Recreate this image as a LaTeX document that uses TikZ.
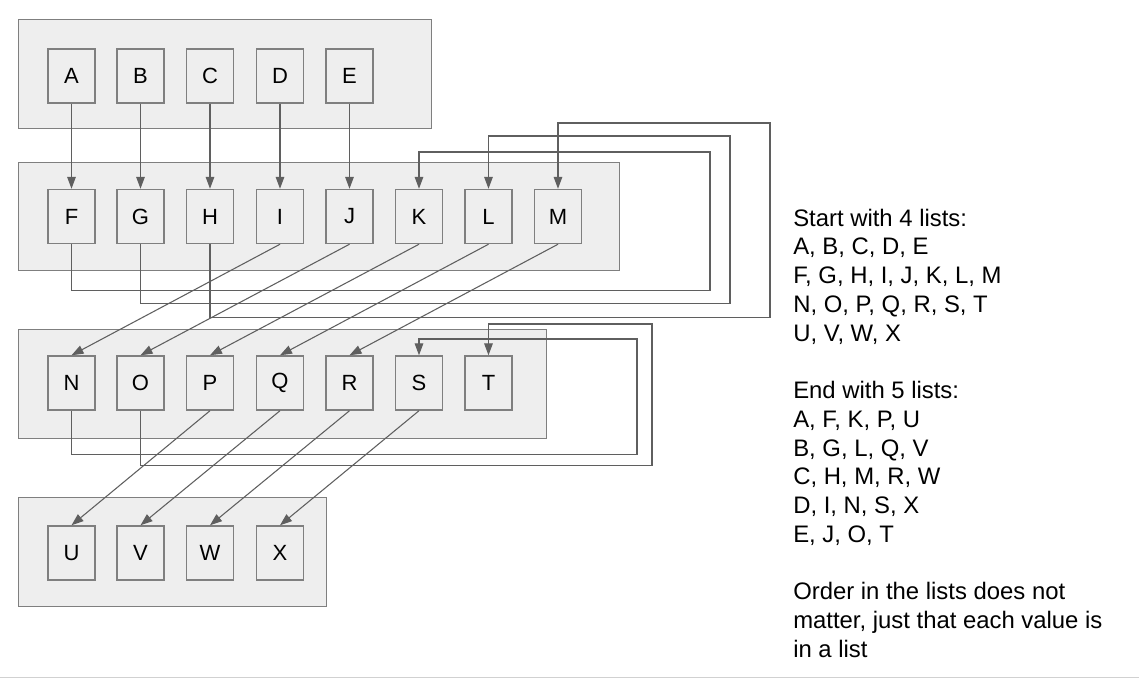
\documentclass[tikz,border=0pt]{standalone}
\usepackage{fontspec}
\setmainfont{Liberation Sans}
\usetikzlibrary{arrows.meta}
\definecolor{grpfill}{HTML}{EEEEEE}
\definecolor{grpline}{HTML}{7F7F7F}
\definecolor{conn}{HTML}{5F5F5F}
\tikzset{
  grp/.style={draw=grpline, fill=grpfill, line width=1.1pt},
  item/.style={draw=grpline, fill=grpfill, line width=1.1pt, minimum width=35.25pt, minimum height=40.5pt, inner sep=0pt, font=\fontsize{16.5}{19}\selectfont},
  link/.style={draw=conn, line width=0.8pt, -{Triangle[length=9pt,width=6.5pt]}},
  txt/.style={anchor=base west, inner sep=0pt, font=\fontsize{17.9}{21}\selectfont}
}
\begin{document}
\begin{tikzpicture}[x=0.75pt,y=-0.75pt]
\useasboundingbox (0,0) rectangle (1139,679);
% groups
\node[grp, minimum width=309.75pt, minimum height=81.75pt, inner sep=0pt, anchor=north west] (g1) at (18,19) {};
\node[grp, minimum width=450.75pt, minimum height=81pt, inner sep=0pt, anchor=north west] (g2) at (18,162) {};
\node[grp, minimum width=396pt, minimum height=81.75pt, inner sep=0pt, anchor=north west] (g3) at (18,329) {};
\node[grp, minimum width=231pt, minimum height=81.75pt, inner sep=0pt, anchor=north west] (g4) at (18,497) {};
% items
\foreach \n/\x in {A/71.5,B/140.5,C/210,D/280,E/349.5}
  \node[item] (\n) at (\x,76) {\n};
\foreach \n/\x in {F/71.5,G/140.5,H/210,I/280,J/349.5,K/419,L/488.5,M/558}
  \node[item] (\n) at (\x,216.5) {\n};
\foreach \n/\x in {N/71.5,O/140.5,P/210,Q/280,R/349.5,S/419,T/488.5}
  \node[item] (\n) at (\x,383) {\n};
\foreach \n/\x in {U/71.5,V/140.5,W/210,X/280}
  \node[item] (\n) at (\x,553) {\n};
% straight down
\foreach \a/\b in {A/F,B/G,C/H,D/I,E/J}
  \draw[link] (\a.south) -- (\b.north);
% diagonals
\foreach \a/\b in {I/N,J/O,K/P,L/Q,M/R,P/U,Q/V,R/W,S/X}
  \draw[link] (\a.south) -- (\b.north);
% loops row 2
\draw[link] (F.south) -- ++(0,46) -| (710,152) -| (K.north);
\draw[link] (G.south) -- ++(0,59) -| (730,136) -| (L.north);
\draw[link] (H.south) -- ++(0,73) -| (770,123) -| (M.north);
% loops row 3
\draw[link] (N.south) -- ++(0,44) -| (637,339) -| (S.north);
\draw[link] (O.south) -- ++(0,54.5) -| (652,324) -| (T.north);
% text
\foreach \i/\t in {0/{Start with 4 lists:},1/{A, B, C, D, E},2/{F, G, H, I, J, K, L, M},3/{N, O, P, Q, R, S, T},4/{U, V, W, X},6/{End with 5 lists:},7/{A, F, K, P, U},8/{B, G, L, Q, V},9/{C, H, M, R, W},10/{D, I, N, S, X},11/{E, J, O, T},13/{Order in the lists does not},14/{matter, just that each value is},15/{in a list}}
  \node[txt] (t\i) at (793,226+28.75*\i) {\t};
% bottom rule
\draw[draw=black!18, line width=1.2pt] (0,677.5) -- (1139,677.5);
\end{tikzpicture}
\end{document}
